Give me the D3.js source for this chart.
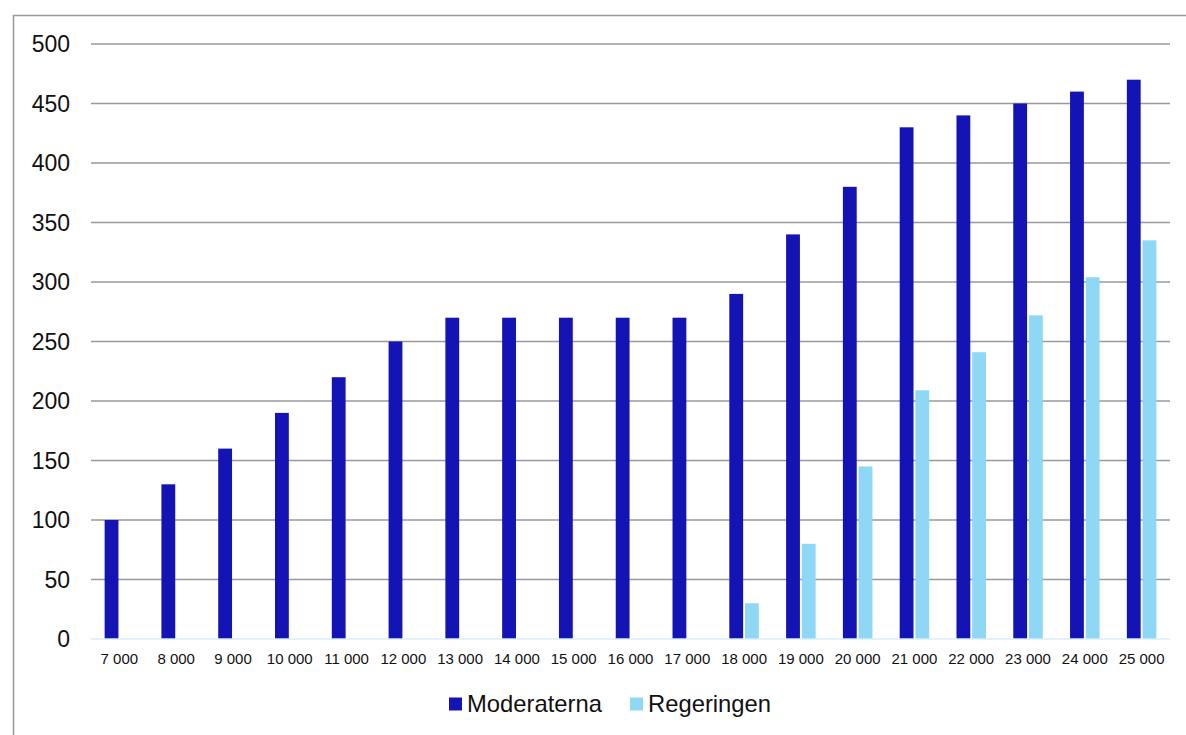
<!DOCTYPE html>
<html>
<head>
<meta charset="utf-8">
<script src="https://cdn.jsdelivr.net/npm/d3@7"></script>
<style>
  body { margin: 0; background: #fff; }
  svg { font-family: "Liberation Sans", Arial, sans-serif; }
</style>
</head>
<body>
<div id="chart"></div>
<script>
// categories (income levels) and the two series
const categories = ["7 000", "8 000", "9 000", "10 000", "11 000", "12 000", "13 000", "14 000", "15 000",
  "16 000", "17 000", "18 000", "19 000", "20 000", "21 000", "22 000", "23 000", "24 000", "25 000"];
const moderaterna = [100, 130, 160, 190, 220, 250, 270, 270, 270, 270, 270, 290, 340, 380, 430, 440, 450, 460, 470];
const regeringen = [0, 0, 0, 0, 0, 0, 0, 0, 0, 0, 0, 30, 80, 145, 209, 241, 272, 304, 335];
const yTicks = [0, 50, 100, 150, 200, 250, 300, 350, 400, 450, 500];
const seriesNames = ["Moderaterna", "Regeringen"];
const colors = ["#1414b4", "#8fd8f5"];

const width = 1186, height = 735;
const margin = { left: 91, right: 16, top: 44, bottom: 96 };

const svg = d3.select('#chart').append('svg')
  .attr('width', width)
  .attr('height', height);

// outer frame (runs off the right and bottom edges)
svg.append('rect')
  .attr('x', 13.5).attr('y', 15.5)
  .attr('width', width).attr('height', height)
  .style('fill', 'none')
  .style('stroke', '#999')
  .style('stroke-width', 1.5);

const x = d3.scaleBand()
  .domain(categories)
  .range([margin.left, width - margin.right])
  .paddingInner(0.48).paddingOuter(0.24);

const x1 = d3.scaleBand()
  .domain(seriesNames)
  .range([0, x.bandwidth()])
  .paddingInner(0.12);

const y = d3.scaleLinear()
  .domain([0, 500])
  .range([height - margin.bottom, margin.top]);

const left = margin.left, right = width - margin.right;

// gridlines
svg.append('g')
  .selectAll('line')
  .data(yTicks.filter(d => d > 0))
  .enter().append('line')
  .attr('x1', left).attr('x2', right)
  .attr('y1', d => y(d)).attr('y2', d => y(d))
  .style('stroke', '#999')
  .style('stroke-width', 1.5);

// y labels
svg.append('g')
  .selectAll('text')
  .data(yTicks)
  .enter().append('text')
  .attr('x', 70)
  .attr('y', d => y(d))
  .attr('dy', '0.35em')
  .attr('text-anchor', 'end')
  .style('font-size', '23px')
  .style('fill', '#111')
  .text(d => d);

// bars
const groups = svg.append('g')
  .selectAll('g')
  .data(categories.map((c, i) => ({ c, vals: [moderaterna[i], regeringen[i]] })))
  .enter().append('g')
  .attr('transform', d => `translate(${x(d.c)},0)`);

groups.selectAll('rect')
  .data(d => d.vals.map((v, j) => ({ name: seriesNames[j], v, j })))
  .enter().append('rect')
  .filter(d => d.v > 0)
  .attr('x', d => x1(d.name))
  .attr('y', d => y(d.v))
  .attr('width', x1.bandwidth())
  .attr('height', d => y(0) - y(d.v))
  .style('fill', d => colors[d.j]);

// baseline
svg.append('line')
  .attr('x1', left).attr('x2', right)
  .attr('y1', y(0)).attr('y2', y(0))
  .style('stroke', '#d6eef9')
  .style('stroke-width', 1.5);

// x labels
svg.append('g')
  .selectAll('text')
  .data(categories)
  .enter().append('text')
  .attr('x', d => x(d) + x.bandwidth() / 2)
  .attr('y', 664)
  .attr('text-anchor', 'middle')
  .style('font-size', '15px')
  .style('fill', '#111')
  .text(d => d);

// legend
const legendX = [449, 630];
const legend = svg.append('g')
  .selectAll('g')
  .data(seriesNames)
  .enter().append('g')
  .attr('transform', (d, i) => `translate(${legendX[i]},704)`);

legend.append('rect')
  .attr('x', 0).attr('y', -6.5)
  .attr('width', 13).attr('height', 13)
  .style('fill', (d, i) => colors[i]);

legend.append('text')
  .attr('x', 18)
  .attr('dy', '0.35em')
  .style('font-size', '23.8px')
  .style('fill', '#111')
  .text(d => d);
</script>
</body>
</html>
